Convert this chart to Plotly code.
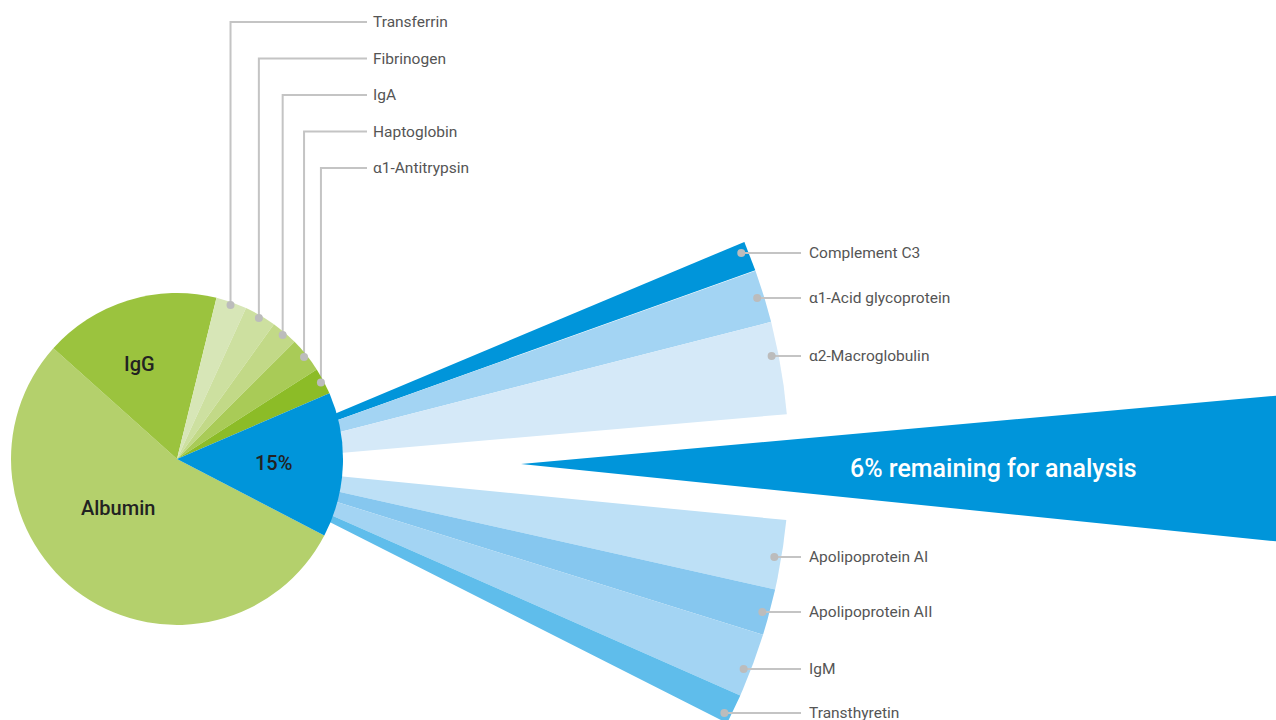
import math
import plotly.graph_objects as go

# ---------------- data ----------------
pie_labels = ["Albumin", "IgG", "Transferrin", "Fibrinogen", "IgA",
              "Haptoglobin", "α1-Antitrypsin", "Other proteins"]
pie_values = [54.0, 17.2, 3.0, 3.1, 2.6, 3.4, 2.6, 14.1]
pie_text = ["Albumin", "IgG", "", "", "", "", "", "15%"]
pie_colors = ["#b4d06c", "#9bc33e", "#d7e6b7", "#cde0a0", "#c2d987",
              "#a9cb57", "#8cbc27", "#0095da"]
top_label_names = ["Transferrin", "Fibrinogen", "IgA", "Haptoglobin", "α1-Antitrypsin"]

upper_labels = ["Complement C3", "α1-Acid glycoprotein", "α2-Macroglobulin"]
upper_values = [0.85, 1.5, 2.6]
upper_colors = ["#0095da", "#a3d4f3", "#d5e9f8"]

lower_labels = ["Apolipoprotein AI", "Apolipoprotein AII", "IgM", "Transthyretin"]
lower_values = [1.95, 1.3, 1.8, 0.85]
lower_colors = ["#bde0f6", "#86c7ef", "#a3d4f3", "#5fbdeb"]

remaining_label = "6% remaining for analysis"

# ---------------- layout constants ----------------
W, H = 1276, 720
PIE_CX, PIE_CY, PIE_R = 177, 459, 166
PIE_START = -27.45            # math degrees, slices go clockwise
FAN_CX, FAN_CY, FAN_R = 215, 464, 574
DEG_PER_PCT = 3.6
UPPER_START = 22.8
LOWER_START = -5.6
TRI_APEX = (521, 464)
TRI_TOP_DEG, TRI_BOT_DEG = 5.17, 5.85
RIGHT_LABEL_Y = [253, 298, 356, 557, 612, 669, 713]   # label rows (pixels from top)
LINE_COLOR = "#c4c4c4"
DOT_COLOR = "#bcbcbc"
TEXT_COLOR = "#555555"
FONT = "Roboto"


def pt(cx, cy, r, deg):
    a = math.radians(deg)
    return cx + r * math.cos(a), cy - r * math.sin(a)


def sector(cx, cy, r, a0, a1, n=80):
    xs, ys = [cx], [cy]
    for i in range(n + 1):
        x, y = pt(cx, cy, r, a0 + (a1 - a0) * i / n)
        xs.append(x)
        ys.append(y)
    xs.append(cx)
    ys.append(cy)
    return xs, ys


fig = go.Figure()

# ---------------- fan wedges ----------------
fan_labels = []
for start, vals, labs, cols in [(UPPER_START, upper_values, upper_labels, upper_colors),
                                (LOWER_START, lower_values, lower_labels, lower_colors)]:
    a = start
    for v, lab, col in zip(vals, labs, cols):
        a1 = a - v * DEG_PER_PCT
        xs, ys = sector(FAN_CX, FAN_CY, FAN_R, a, a1)
        fig.add_trace(go.Scatter(x=xs, y=ys, fill="toself", fillcolor=col,
                                 mode="lines", line=dict(width=0, color=col),
                                 name=lab, hoverinfo="name", showlegend=False))
        fan_labels.append(lab)
        a = a1

# ---------------- remaining triangle ----------------
far_x = W + 20
L = far_x - TRI_APEX[0]
tri_x = [TRI_APEX[0], far_x, far_x, TRI_APEX[0]]
tri_y = [TRI_APEX[1], TRI_APEX[1] - L * math.tan(math.radians(TRI_TOP_DEG)),
         TRI_APEX[1] + L * math.tan(math.radians(TRI_BOT_DEG)), TRI_APEX[1]]
fig.add_trace(go.Scatter(x=tri_x, y=tri_y, fill="toself", fillcolor="#0095da",
                         mode="lines", line=dict(width=0, color="#0095da"),
                         hoverinfo="skip", showlegend=False))

# ---------------- fan leader lines + dots ----------------
shapes = []
annotations = []
for lab, y in zip(fan_labels, RIGHT_LABEL_Y):
    r = FAN_R - 7
    x = FAN_CX + math.sqrt(r * r - (FAN_CY - y) ** 2)
    fig.add_trace(go.Scatter(x=[x, 801], y=[y, y], mode="lines",
                             line=dict(color=LINE_COLOR, width=2),
                             hoverinfo="skip", showlegend=False))
    fig.add_trace(go.Scatter(x=[x], y=[y], mode="markers",
                             marker=dict(color=DOT_COLOR, size=8),
                             hoverinfo="skip", showlegend=False))
    annotations.append(dict(x=807, y=y, xref="x", yref="y", text=lab, showarrow=False,
                            xanchor="left", yanchor="middle",
                            font=dict(family=FONT, size=15.5, color=TEXT_COLOR)))

# ---------------- pie leader lines (top labels) ----------------
total = sum(pie_values)
a = PIE_START
mids = {}
for lab, v in zip(pie_labels, pie_values):
    a1 = a - v / total * 360
    mids[lab] = (a + a1) / 2
    a = a1

for i, lab in enumerate(top_label_names):
    x, y = pt(PIE_CX, PIE_CY, 163, mids[lab])
    ly = 22 + 36.5 * i
    fig.add_trace(go.Scatter(x=[x, x, 367], y=[y, ly, ly], mode="lines",
                             line=dict(color=LINE_COLOR, width=2),
                             hoverinfo="skip", showlegend=False))
    shapes.append(dict(type="circle", xref="x", yref="y", layer="above",
                       x0=x - 4, x1=x + 4, y0=y - 4, y1=y + 4,
                       fillcolor=DOT_COLOR, line=dict(width=0)))
    annotations.append(dict(x=371, y=ly, xref="x", yref="y", text=lab, showarrow=False,
                            xanchor="left", yanchor="middle",
                            font=dict(family=FONT, size=15.5, color=TEXT_COLOR)))

# ---------------- main pie ----------------
fig.add_trace(go.Pie(
    labels=pie_labels, values=pie_values, sort=False, direction="clockwise",
    rotation=90 - PIE_START, marker=dict(colors=pie_colors, line=dict(width=0)),
    textinfo="none", hoverinfo="label+percent", showlegend=False,
    domain=dict(x=[(PIE_CX - PIE_R) / W, (PIE_CX + PIE_R) / W],
                y=[1 - (PIE_CY + PIE_R) / H, 1 - (PIE_CY - PIE_R) / H]),
))

# pie inside labels
pie_label_pos = {"Albumin": (118, 508), "IgG": (139, 364), "Other proteins": (273, 463)}
for lab, txt in zip(pie_labels, pie_text):
    if txt:
        x, y = pie_label_pos[lab]
        annotations.append(dict(x=x, y=y, xref="x", yref="y", text=txt, showarrow=False,
                                xanchor="center", yanchor="middle",
                                font=dict(family=FONT, size=20, color="#222222", weight=500)))

annotations.append(dict(x=993, y=468, xref="x", yref="y", text=remaining_label,
                        showarrow=False, xanchor="center", yanchor="middle",
                        font=dict(family=FONT, size=25, color="white", weight=500)))

fig.update_layout(
    width=W, height=H, margin=dict(l=0, r=0, t=0, b=0),
    paper_bgcolor="white", plot_bgcolor="white", showlegend=False,
    xaxis=dict(range=[0, W], visible=False, fixedrange=True),
    yaxis=dict(range=[H, 0], visible=False, fixedrange=True),
    shapes=shapes, annotations=annotations,
)

fig.write_html("out.html", config={"displayModeBar": False},
               post_script="document.body.style.margin='0px';document.body.style.overflow='hidden';")
